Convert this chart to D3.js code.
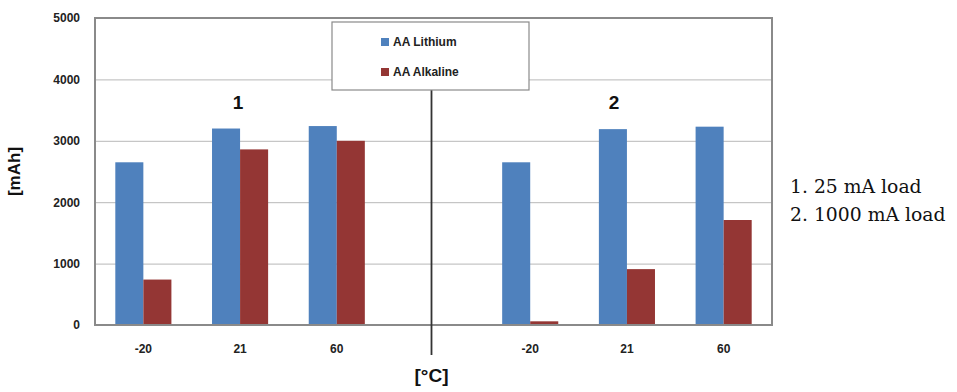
<!DOCTYPE html>
<html>
<head>
<meta charset="utf-8">
<script src="https://cdn.jsdelivr.net/npm/d3@7"></script>
<style>
  body { margin: 0; background: #fff; }
  svg text { font-family: "Liberation Sans", Arial, sans-serif; }
</style>
</head>
<body>
<div id="chart"></div>
<script>
// slots along the x axis (the 4th one is the empty gap with the divider)
var slots = ["25mA -20", "25mA 21", "25mA 60", "gap", "1000mA -20", "1000mA 21", "1000mA 60"];
var tickLabels = ["-20", "21", "60", "", "-20", "21", "60"];
var seriesNames = ["AA Lithium", "AA Alkaline"];
var lithium  = [2650, 3200, 3240, null, 2650, 3190, 3230];
var alkaline = [740, 2860, 3000, null, 60, 910, 1710];
var yTicks = [0, 1000, 2000, 3000, 4000, 5000];
var groupLabels = ["1", "2"];
var notes = ["1. 25 mA load", "2. 1000 mA load"];

var colors = ["#4f81bd", "#943634"];

var margin = { top: 18, right: 185, bottom: 67, left: 95 },
    width = 957 - margin.left - margin.right,
    height = 392 - margin.top - margin.bottom;

var svg = d3.select("#chart")
  .append("svg")
    .attr("width", 957)
    .attr("height", 392)
  .append("g")
    .attr("transform", "translate(" + margin.left + "," + margin.top + ")");

var x = d3.scaleBand()
  .domain(slots)
  .range([0, width])
  .paddingInner(0.42)
  .paddingOuter(0.21);

var xs = d3.scaleBand()
  .domain(seriesNames)
  .range([0, x.bandwidth()]);

var y = d3.scaleLinear()
  .domain([0, 5000])
  .range([height, 0]);

// gridlines
svg.append("g")
  .call(d3.axisLeft(y).tickValues(yTicks.slice(1, -1)).tickSize(-width).tickFormat(""))
  .call(function(g) { g.select(".domain").remove(); })
  .selectAll("line")
    .attr("stroke", "#b8b8b8");

// y tick labels
svg.append("g")
  .call(d3.axisLeft(y).tickValues(yTicks).tickSize(0).tickPadding(15).tickFormat(d3.format("d")))
  .call(function(g) { g.select(".domain").remove(); })
  .selectAll("text")
    .style("font-size", "12px")
    .style("font-weight", "bold")
    .attr("fill", "#222");

// x tick labels
svg.append("g")
  .attr("transform", "translate(0," + height + ")")
  .call(d3.axisBottom(x).tickSize(0).tickPadding(19).tickFormat(function(d, i) { return tickLabels[i]; }))
  .call(function(g) { g.select(".domain").remove(); })
  .selectAll("text")
    .style("font-size", "12px")
    .style("font-weight", "bold")
    .attr("fill", "#222");

// bars
var rows = slots.map(function(s, i) {
  return { slot: s, vals: [lithium[i], alkaline[i]] };
}).filter(function(d) { return d.vals[0] != null; });

var grp = svg.selectAll(".grp")
  .data(rows)
  .enter()
  .append("g")
    .attr("transform", function(d) { return "translate(" + x(d.slot) + ",0)"; });

grp.selectAll("rect")
  .data(function(d) { return d.vals.map(function(v, k) { return { name: seriesNames[k], v: v, k: k }; }); })
  .enter()
  .append("rect")
    .attr("x", function(d) { return xs(d.name); })
    .attr("y", function(d) { return y(d.v); })
    .attr("width", xs.bandwidth())
    .attr("height", function(d) { return height - y(d.v); })
    .attr("fill", function(d) { return colors[d.k]; });

// plot frame
svg.append("rect")
  .attr("width", width)
  .attr("height", height)
  .attr("fill", "none")
  .attr("stroke", "#8a8a8a")
  .attr("stroke-width", 2);

// divider line through the gap
var gapX = x("gap") + x.bandwidth() / 2 - 2;
svg.append("line")
  .attr("x1", gapX).attr("x2", gapX)
  .attr("y1", 72).attr("y2", height + 30)
  .attr("stroke", "#333")
  .attr("stroke-width", 1.8);

// legend
var lg = svg.append("g").attr("transform", "translate(237,4)");
lg.append("rect")
  .attr("width", 197)
  .attr("height", 68)
  .attr("fill", "#fff")
  .attr("stroke", "#8a8a8a")
  .attr("stroke-width", 1.2);
seriesNames.forEach(function(n, i) {
  lg.append("rect")
    .attr("x", 49).attr("y", 16 + i * 30)
    .attr("width", 8).attr("height", 8)
    .attr("fill", colors[i]);
  lg.append("text")
    .attr("x", 61).attr("y", 24 + i * 30)
    .style("font-size", "12px")
    .style("font-weight", "bold")
    .attr("fill", "#222")
    .text(n);
});

// group numbers
var groupOffsets = [-2, -13];
["25mA 21", "1000mA 21"].forEach(function(s, i) {
  svg.append("text")
    .attr("x", x(s) + x.bandwidth() / 2 + groupOffsets[i])
    .attr("y", 91)
    .attr("text-anchor", "middle")
    .style("font-size", "19px")
    .style("font-weight", "bold")
    .attr("fill", "#111")
    .text(groupLabels[i]);
});

// axis titles
svg.append("text")
  .attr("transform", "translate(-75," + y(2500) + ") rotate(-90)")
  .attr("text-anchor", "middle")
  .style("font-size", "17px")
  .style("font-weight", "bold")
  .attr("fill", "#111")
  .text("[mAh]");

svg.append("text")
  .attr("x", gapX)
  .attr("y", height + 57)
  .attr("text-anchor", "middle")
  .style("font-size", "19px")
  .style("font-weight", "bold")
  .attr("fill", "#111")
  .text("[°C]");

// notes on the right
var svgRoot = d3.select("#chart svg");
notes.forEach(function(t, i) {
  svgRoot.append("text")
    .attr("x", 790)
    .attr("y", 193 + i * 28)
    .style("font-family", "'DejaVu Serif', serif")
    .style("font-size", "18.8px")
    .attr("fill", "#111")
    .text(t);
});
</script>
</body>
</html>
